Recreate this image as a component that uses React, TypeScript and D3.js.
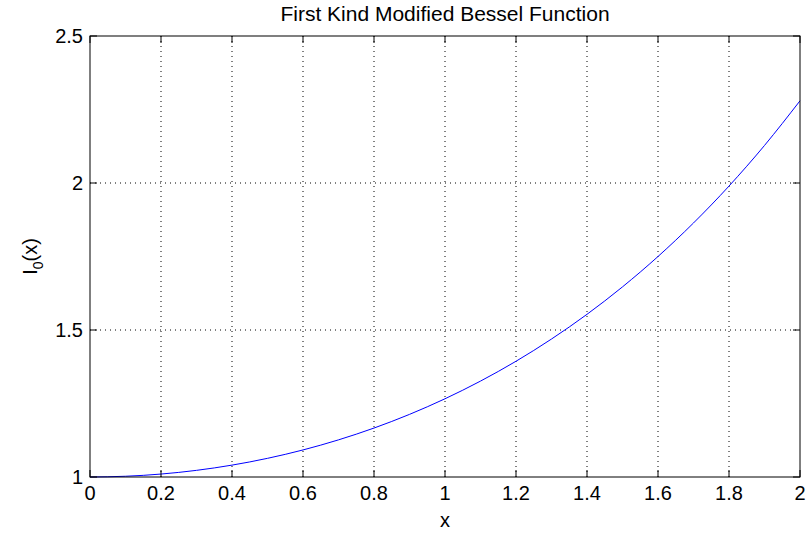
import React from "react";
import * as d3 from "d3";

const xValues = [0, 0.1, 0.2, 0.3, 0.4, 0.5, 0.6, 0.7, 0.8, 0.9, 1.0, 1.1, 1.2, 1.3, 1.4, 1.5, 1.6, 1.7, 1.8, 1.9, 2.0];
const yValues = [1.0, 1.0025, 1.01, 1.0226, 1.0404, 1.0635, 1.092, 1.1263, 1.1665, 1.213, 1.2661, 1.3262, 1.3937, 1.4693, 1.5534, 1.6467, 1.75, 1.864, 1.9896, 2.1277, 2.2796];
const xTicks = [0, 0.2, 0.4, 0.6, 0.8, 1, 1.2, 1.4, 1.6, 1.8, 2];
const yTicks = [1, 1.5, 2, 2.5];
const title = "First Kind Modified Bessel Function";
const xLabel = "x";

export default function App() {
  const W = 808, H = 536;
  const left = 90, right = 800, top = 36, bottom = 477;
  const x = d3.scaleLinear().domain([0, 2]).range([left, right]);
  const y = d3.scaleLinear().domain([1, 2.5]).range([bottom, top]);
  const line = d3
    .line<number>()
    .x((_, i) => x(xValues[i]))
    .y((d) => y(d))
    .curve(d3.curveMonotoneX);
  const font = "'Liberation Sans', Arial, Helvetica, sans-serif";
  const tl = 7;
  return (
    <svg width={W} height={H} style={{ position: "absolute", left: 0, top: 0, background: "#fff" }} fontFamily={font}>
      <rect x={0} y={0} width={W} height={H} fill="#fff" />
      {xTicks.slice(1, -1).map((t) => (
        <line key={"gx" + t} x1={x(t)} x2={x(t)} y1={top} y2={bottom} stroke="#000" strokeWidth={1} strokeDasharray="1,4" />
      ))}
      {yTicks.slice(1, -1).map((t) => (
        <line key={"gy" + t} x1={left} x2={right} y1={y(t)} y2={y(t)} stroke="#000" strokeWidth={1} strokeDasharray="1,4" />
      ))}
      <path d={line(yValues) || ""} fill="none" stroke="#0000ff" strokeWidth={1} />
      <rect x={left} y={top} width={right - left} height={bottom - top} fill="none" stroke="#000" strokeWidth={1} />
      {xTicks.map((t) => (
        <g key={"tx" + t}>
          <line x1={x(t)} x2={x(t)} y1={bottom} y2={bottom - tl} stroke="#000" />
          <line x1={x(t)} x2={x(t)} y1={top} y2={top + tl} stroke="#000" />
          <text x={x(t)} y={bottom + 23} textAnchor="middle" fontSize={20}>{String(t)}</text>
        </g>
      ))}
      {yTicks.map((t) => (
        <g key={"ty" + t}>
          <line x1={left} x2={left + tl} y1={y(t)} y2={y(t)} stroke="#000" />
          <line x1={right} x2={right - tl} y1={y(t)} y2={y(t)} stroke="#000" />
          <text x={left - 7} y={y(t) + 7} textAnchor="end" fontSize={20}>{String(t)}</text>
        </g>
      ))}
      <text x={(left + right) / 2} y={21} textAnchor="middle" fontSize={21}>{title}</text>
      <text x={(left + right) / 2} y={527} textAnchor="middle" fontSize={20}>{xLabel}</text>
      <text transform={`translate(37, ${(top + bottom) / 2}) rotate(-90)`} textAnchor="middle" fontSize={20}>
        I<tspan fontSize={14} dy={6}>0</tspan><tspan dy={-6}>(x)</tspan>
      </text>
    </svg>
  );
}
